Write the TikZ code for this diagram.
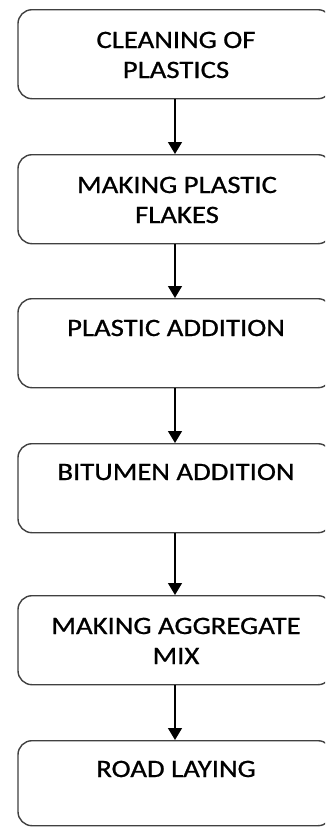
\documentclass[tikz,border=0pt]{standalone}
\usepackage{fontspec}
\newfontfamily\boxfont[FakeStretch=1.15,FakeBold=0.8]{Carlito}
\usetikzlibrary{arrows.meta}
\definecolor{edge}{HTML}{404040}
\tikzset{
  stepbox/.style={draw=edge, line width=1.4pt, rounded corners=14pt, minimum width=314pt, minimum height=89pt, anchor=north, inner sep=0pt},
  steptext/.style={anchor=base, align=center, font=\boxfont\fontsize{25}{30}\selectfont, text=black, inner sep=0pt},
  flow/.style={line width=1.3pt, -{Triangle[width=14pt,length=12pt]}}
}
\begin{document}
\begin{tikzpicture}[x=1pt,y=-1pt]
\useasboundingbox (0,0) rectangle (325,828);
\fill[white] (0,0) rectangle (325,828);
\clip (0,0) rectangle (325,828);
\node[stepbox] (b1) at (175,9) {};
\node[stepbox] (b2) at (175,154) {};
\node[stepbox] (b3) at (175,298) {};
\node[stepbox] (b4) at (175,443) {};
\node[stepbox] (b5) at (175,595) {};
\node[stepbox, minimum height=85pt] (b6) at (175,740) {};
\node[steptext] (t1) at (176,78) {CLEANING OF\\PLASTICS};
\node[steptext] (t2) at (177,223) {MAKING PLASTIC\\FLAKES};
\node[steptext] (t3) at (176,336) {PLASTIC ADDITION};
\node[steptext] (t4) at (176,480) {BITUMEN ADDITION};
\node[steptext] (t5) at (176,664) {MAKING AGGREGATE\\MIX};
\node[steptext] (t6) at (176,777) {ROAD LAYING};
\draw[flow] (b1.south) -- (b2.north);
\draw[flow] (b2.south) -- (b3.north);
\draw[flow] (b3.south) -- (b4.north);
\draw[flow] (b4.south) -- (b5.north);
\draw[flow] (b5.south) -- (b6.north);
\end{tikzpicture}
\end{document}
